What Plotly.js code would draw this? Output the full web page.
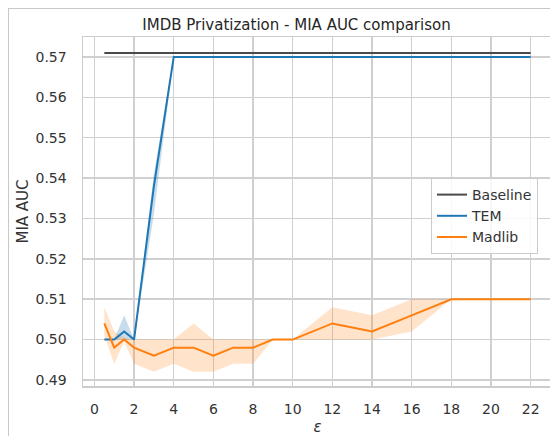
<!DOCTYPE html>
<html>
<head>
<meta charset="utf-8">
<script src="https://cdn.plot.ly/plotly-3.0.1.min.js"></script>
<style>
  html, body { margin: 0; padding: 0; background: #fff; width: 550px; height: 436px; overflow: hidden; }
  #chart { position: absolute; left: 0; top: 0; width: 570px; height: 436px; }
  #frame { position: absolute; left: 8px; top: 8px; width: 600px; height: 500px;
           border-left: 1px solid #c8c8c8; border-top: 1px solid #c8c8c8; pointer-events: none; }
</style>
</head>
<body>
<div id="chart"></div>
<div id="frame"></div>
<script>
// epsilon values
const epsilons = [0.5, 1, 1.5, 2, 3, 4, 5, 6, 7, 8, 9, 10, 12, 14, 16, 18, 20, 22];

// Baseline MIA AUC
const baseline = [0.571, 0.571, 0.571, 0.571, 0.571, 0.571, 0.571, 0.571, 0.571,
                  0.571, 0.571, 0.571, 0.571, 0.571, 0.571, 0.571, 0.571, 0.571];

// TEM mean and confidence band
const temMean  = [0.500, 0.500, 0.502, 0.500, 0.538, 0.570, 0.570, 0.570, 0.570,
                  0.570, 0.570, 0.570, 0.570, 0.570, 0.570, 0.570, 0.570, 0.570];
const temUpper = [0.500, 0.500, 0.506, 0.500, 0.541, 0.570, 0.570, 0.570, 0.570,
                  0.570, 0.570, 0.570, 0.570, 0.570, 0.570, 0.570, 0.570, 0.570];
const temLower = [0.500, 0.500, 0.500, 0.500, 0.531, 0.570, 0.570, 0.570, 0.570,
                  0.570, 0.570, 0.570, 0.570, 0.570, 0.570, 0.570, 0.570, 0.570];

// Madlib mean and confidence band
const madMean  = [0.504, 0.498, 0.500, 0.498, 0.496, 0.498, 0.498, 0.496, 0.498,
                  0.498, 0.500, 0.500, 0.504, 0.502, 0.506, 0.510, 0.510, 0.510];
const madUpper = [0.508, 0.502, 0.5005, 0.500, 0.500, 0.500, 0.504, 0.500, 0.500,
                  0.500, 0.500, 0.500, 0.508, 0.506, 0.510, 0.510, 0.510, 0.510];
const madLower = [0.501, 0.494, 0.4995, 0.494, 0.492, 0.494, 0.492, 0.492, 0.494,
                  0.494, 0.500, 0.500, 0.500, 0.500, 0.502, 0.510, 0.510, 0.510];

const xTicks = [0, 2, 4, 6, 8, 10, 12, 14, 16, 18, 20, 22];
const yTicks = [0.49, 0.50, 0.51, 0.52, 0.53, 0.54, 0.55, 0.56, 0.57];

const seriesNames = ['Baseline', 'TEM', 'Madlib'];
const colors = { base: '#4a4a4a', tem: '#1f77b4', mad: '#ff7f0e' };

function band(upper, lower, fill) {
  return [
    { x: epsilons, y: upper, mode: 'lines', line: { width: 0 }, showlegend: false, hoverinfo: 'skip' },
    { x: epsilons, y: lower, mode: 'lines', line: { width: 0 }, fill: 'tonexty',
      fillcolor: fill, showlegend: false, hoverinfo: 'skip' }
  ];
}

const traces = [
  ...band(temUpper, temLower, 'rgba(31,119,180,0.25)'),
  ...band(madUpper, madLower, 'rgba(255,127,14,0.22)'),
  { x: epsilons, y: baseline, name: seriesNames[0], mode: 'lines', line: { color: colors.base, width: 2 } },
  { x: epsilons, y: temMean, name: seriesNames[1], mode: 'lines', line: { color: colors.tem, width: 2 } },
  { x: epsilons, y: madMean, name: seriesNames[2], mode: 'lines', line: { color: colors.mad, width: 2 } }
];

const font = { family: 'DejaVu Sans, sans-serif', color: '#333333' };

const layout = {
  width: 570, height: 436,
  margin: { l: 83, r: 18, t: 37, b: 50 },
  paper_bgcolor: 'rgba(0,0,0,0)', plot_bgcolor: '#ffffff',
  font: Object.assign({ size: 14 }, font),
  title: { text: 'IMDB Privatization - MIA AUC comparison',
           font: Object.assign({}, font, { size: 15, color: '#262626' }),
           xref: 'container', x: 296.5 / 570, xanchor: 'center',
           yref: 'container', y: 1 - 24.5 / 436, yanchor: 'middle' },
  xaxis: {
    range: [-0.575, 23.075], tickmode: 'array', tickvals: xTicks,
    ticks: '', ticklabelstandoff: 10,
    showgrid: true, gridcolor: '#d0d0d0', gridwidth: 1.5, zeroline: false,
    showline: true, mirror: true, linecolor: '#cccccc', linewidth: 1.5,
    tickfont: { size: 14 },
    title: { text: '<i>ε</i>', font: { size: 15 }, standoff: 5 }
  },
  yaxis: {
    range: [0.4885, 0.57495], tickmode: 'array', tickvals: yTicks,
    tickformat: '.2f',
    ticks: '', ticklabelstandoff: 12,
    showgrid: true, gridcolor: '#d0d0d0', gridwidth: 1.5, zeroline: false,
    showline: true, mirror: true, linecolor: '#cccccc', linewidth: 1.5,
    tickfont: { size: 14 },
    title: { text: 'MIA AUC', font: { size: 15 }, standoff: 3 }
  },
  legend: {
    x: (431 - 83) / 469, xanchor: 'left', y: (386 - 178) / 349, yanchor: 'top',
    traceorder: 'normal',
    bgcolor: 'rgba(255,255,255,0.85)', bordercolor: '#cccccc', borderwidth: 1,
    font: { size: 14, color: '#333333' }, itemwidth: 30
  },
  showlegend: true
};

Plotly.newPlot('chart', traces, layout, { displayModeBar: false, staticPlot: true });
</script>
</body>
</html>
